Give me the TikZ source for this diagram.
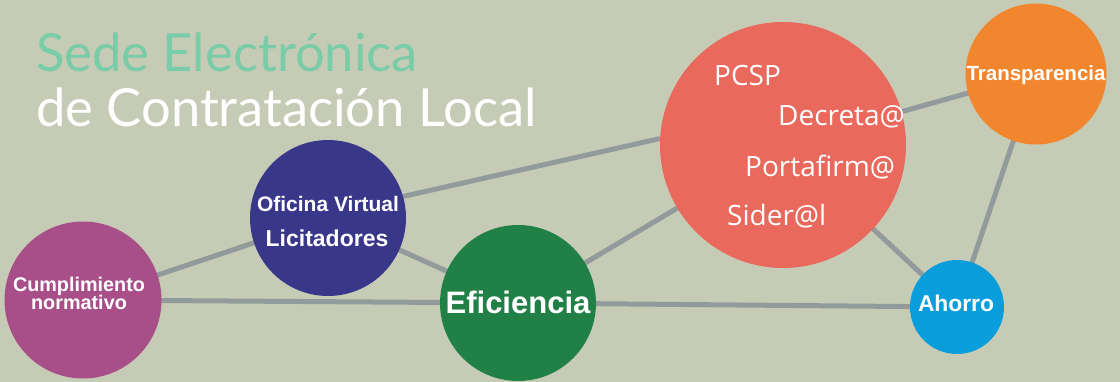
\documentclass[tikz,border=0pt]{standalone}
\usepackage{fontspec}
\setmainfont{Liberation Sans}
\newfontfamily\titlefont{Lato}
\newfontfamily\softfont{Open Sans}
\newfontfamily\boldfont{Liberation Sans}
\pgfdeclarelayer{bgl}
\pgfdeclarelayer{edgel}
\pgfsetlayers{bgl,edgel,main}
\definecolor{bgc}{HTML}{C5CBB4}
\definecolor{cumc}{HTML}{A84F8A}
\definecolor{ofic}{HTML}{39378A}
\definecolor{efic}{HTML}{218046}
\definecolor{pcspc}{HTML}{E9695C}
\definecolor{tranc}{HTML}{F2862E}
\definecolor{ahoc}{HTML}{0A9DDB}
\definecolor{linec}{HTML}{939A9B}
\definecolor{titc}{HTML}{78CCA8}
\tikzset{
  bubble/.style={circle, inner sep=0pt, draw=none},
  link/.style={draw=linec, line width=5pt},
  btext/.style={text=white, inner sep=0pt, anchor=base, font=\boldfont\bfseries},
  ltext/.style={text=white, inner sep=0pt, anchor=base west, font=\softfont\fontsize{28}{30}\selectfont},
  ttext/.style={inner sep=0pt, anchor=base west, font=\titlefont\fontsize{52.5}{60}\selectfont}
}
\begin{document}
\begin{tikzpicture}[x=1pt,y=-1pt]
\begin{pgfonlayer}{bgl}
\fill[bgc] (0,0) rectangle (1120,382);
\end{pgfonlayer}
\useasboundingbox (0,0) rectangle (1120,382);

\node[ttext, text=titc] (t1) at (36,72) {Sede Electrónica};
\node[ttext, text=white] (t2) at (36,127) {de Contratación Local};

\node[bubble, fill=cumc, minimum size=157pt] (cum) at (83,300) {};
\node[bubble, fill=ofic, minimum size=156pt] (ofi) at (328,218) {};
\node[bubble, fill=efic, minimum size=156pt] (efi) at (518,303) {};
\node[bubble, fill=pcspc, minimum size=246pt] (pcsp) at (783,145) {};
\node[bubble, fill=tranc, minimum size=141pt] (tra) at (1036,74) {};
\node[bubble, fill=ahoc, minimum size=94pt] (aho) at (957,307) {};

\begin{pgfonlayer}{edgel}
\draw[link] (cum.center) -- (ofi.center);
\draw[link] (cum.center) -- (efi.center);
\draw[link] (ofi.16) -- (pcsp.177);
\draw[link] (ofi.center) -- (efi.center);
\draw[link] (efi.center) -- (pcsp.center);
\draw[link] (efi.center) -- (aho.center);
\draw[link] (pcsp.center) -- (aho.center);
\draw[link] (pcsp.center) -- (tra.center);
\draw[link] (tra.center) -- (aho.center);
\end{pgfonlayer}

\node[btext, font=\boldfont\bfseries\fontsize{19.8}{22}\selectfont] (cumt1) at (79,292) {Cumplimiento};
\node[btext, font=\boldfont\bfseries\fontsize{19.8}{22}\selectfont] (cumt2) at (79,310) {normativo};
\node[btext, font=\boldfont\bfseries\fontsize{21}{22}\selectfont] (ofit1) at (328,212) {Oficina Virtual};
\node[btext, font=\boldfont\bfseries\fontsize{23}{24}\selectfont] (ofit2) at (327,247) {Licitadores};
\node[btext, font=\boldfont\bfseries\fontsize{31}{32}\selectfont] (efit) at (518,313) {Eficiencia};
\node[btext, font=\boldfont\bfseries\fontsize{20.5}{22}\selectfont] (trat) at (1036,81) {Transparencia};
\node[btext, font=\boldfont\bfseries\fontsize{22.8}{24}\selectfont] (ahot) at (956,312) {Ahorro};

\node[ltext] (l1) at (714,86) {PCSP};
\node[ltext] (l2) at (778,126) {Decreta@};
\node[ltext] (l3) at (745,177) {Portafirm@};
\node[ltext] (l4) at (727,226) {Sider@l};
\end{tikzpicture}
\end{document}
